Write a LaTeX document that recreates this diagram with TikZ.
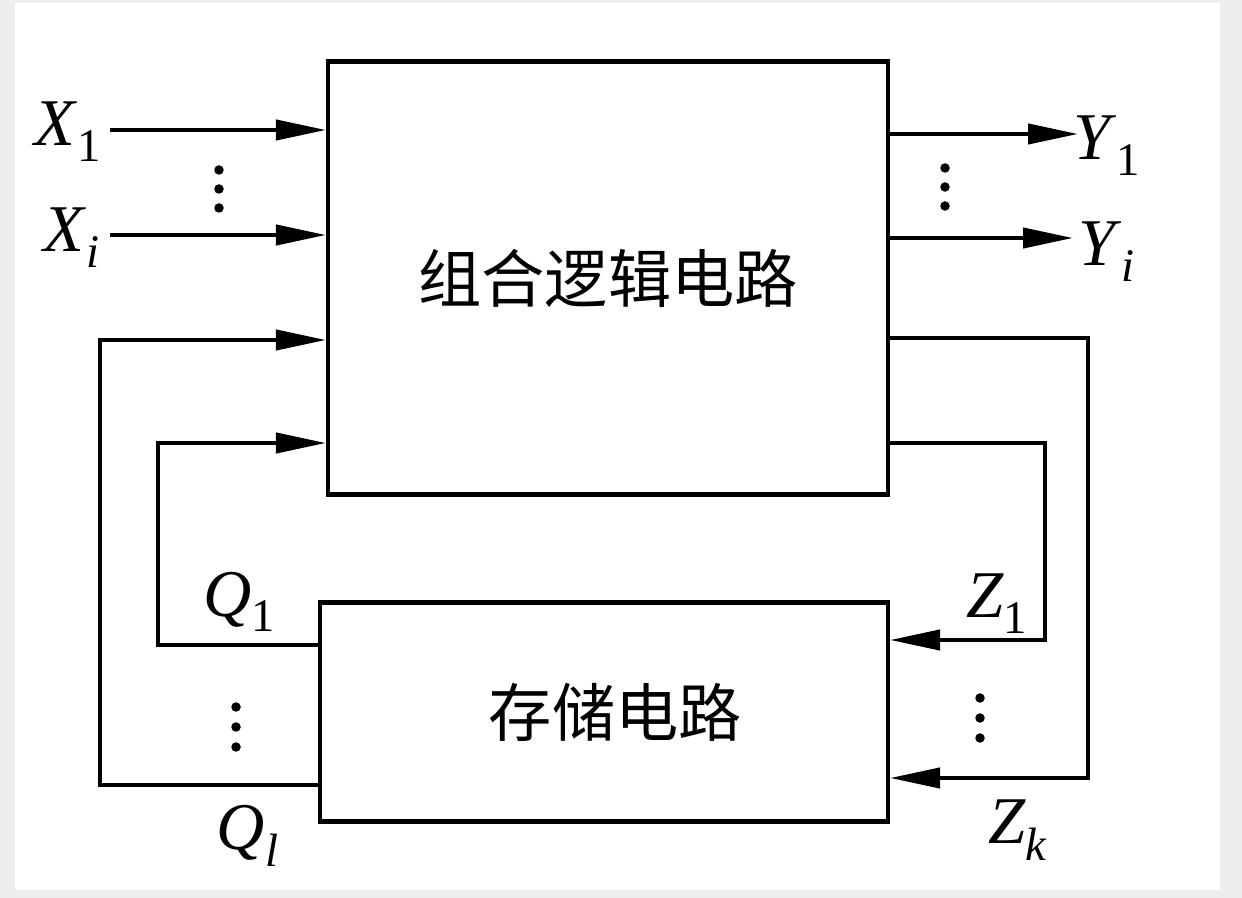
\documentclass[tikz,border=0pt]{standalone}
\usepackage{fontspec}
\usetikzlibrary{arrows.meta}
\newfontfamily\cjk{Noto Sans CJK SC}
\newfontfamily\lblfont{Liberation Serif}
\newcommand\sig[2]{\textit{#1}\textsubscript{#2}}
\tikzset{
  block/.style={draw, line width=2.4pt, inner sep=0pt, font=\cjk\fontsize{36}{40}\selectfont},
  wire/.style={line width=2.4pt},
  arr/.style={wire, -{Triangle[length=1.0cm, width=0.4cm]}},
  lbl/.style={inner sep=0pt, font=\lblfont\fontsize{38}{42}\selectfont},
  dot/.style={fill, circle, inner sep=0pt, minimum size=0.19cm}
}
\begin{document}
\begin{tikzpicture}[x=0.02cm, y=-0.02cm]
    \useasboundingbox (0,0) rectangle (1242,898);
    \fill[gray!13] (0,0) rectangle (1242,898);
    \fill[white] (15,3) rectangle (1220,890);
    % the two blocks
    \node[block, minimum width=11.2cm, minimum height=8.66cm] (comb) at (608,278) {组合逻辑电路};
    \node[block, minimum width=11.36cm, minimum height=4.38cm] (store) at (604,712) {\hspace*{0.45cm}存储电路};
    % inputs and outputs
    \coordinate (xa) at (110,130);
    \coordinate (xb) at (110,235);
    \coordinate (ya) at (1078,134);
    \coordinate (yb) at (1073,238);
    \draw[arr] (xa) -- (xa -| comb.west);
    \draw[arr] (xb) -- (xb -| comb.west);
    \draw[arr] (ya -| comb.east) -- (ya);
    \draw[arr] (yb -| comb.east) -- (yb);
    \node[lbl] (X1) at (68,132) {\sig{X}{1}};
    \node[lbl] (Xi) at (72,238) {\sig{X}{\textit{i}}};
    \node[lbl] (Y1) at (1107,146) {\sig{Y}{1}};
    \node[lbl] (Yi) at (1107,252) {\sig{Y}{\textit{i}}};
    % feedback Z
    \coordinate (zao) at (1045,443);
    \coordinate (zai) at (1045,640);
    \coordinate (zko) at (1088,338);
    \coordinate (zki) at (1088,778);
    \draw[arr] (zao -| comb.east) -- (zao) -- (zai) -- (zai -| store.east);
    \draw[arr] (zko -| comb.east) -- (zko) -- (zki) -- (zki -| store.east);
    \node[lbl] (Z1) at (997,604) {\sig{Z}{1}};
    \node[lbl] (Zk) at (1018,830) {\sig{Z}{\textit{k}}};
    % feedback Q
    \coordinate (qao) at (158,645);
    \coordinate (qai) at (158,443);
    \coordinate (qlo) at (100,785);
    \coordinate (qli) at (100,340);
    \draw[arr] (qao -| store.west) -- (qao) -- (qai) -- (qai -| comb.west);
    \draw[arr] (qlo -| store.west) -- (qlo) -- (qli) -- (qli -| comb.west);
    \node[lbl] (Q1) at (240,602) {\sig{Q}{1}};
    \node[lbl] (Ql) at (248,836) {\sig{Q}{\textit{l}}};
    % vertical dots
    \foreach \k in {0,1,2} {
      \node[dot] (dx\k) at (219,170+19*\k) {};
      \node[dot] (dy\k) at (945,168+19*\k) {};
      \node[dot] (dq\k) at (236,707+20*\k) {};
      \node[dot] (dz\k) at (980,698+20*\k) {};
    }
\end{tikzpicture}
\end{document}
